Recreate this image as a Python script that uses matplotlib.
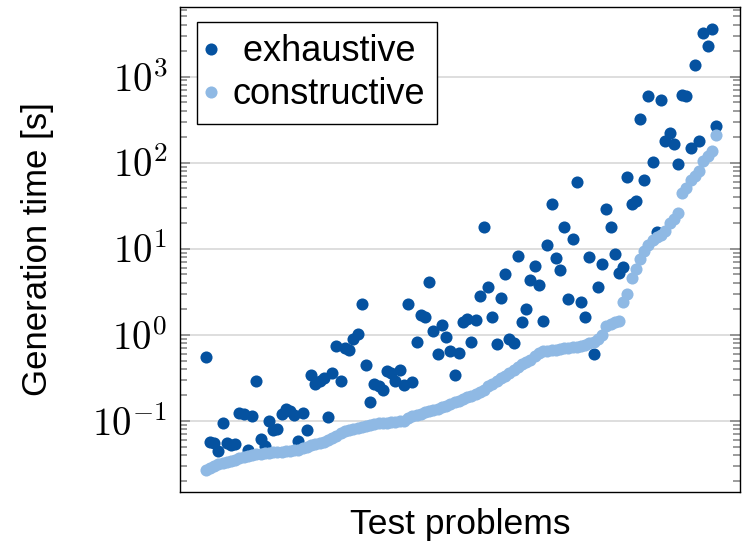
import matplotlib
matplotlib.use("Agg")
import matplotlib.pyplot as plt
from matplotlib.ticker import FuncFormatter
import numpy as np

# -------- Data (sorted by constructive time) --------
exhaustive = [
    0.55, 0.056, 0.055, 0.044, 0.095, 0.055, 0.052, 0.053, 0.123, 0.118,
    0.046, 0.113, 0.29, 0.061, 0.051, 0.10, 0.077, 0.08, 0.118, 0.135,
    0.13, 0.117, 0.058, 0.124, 0.077, 0.34, 0.27, 0.29, 0.31, 0.11,
    0.36, 0.73, 0.29, 0.70, 0.67, 0.89, 1.02, 2.29, 0.44, 0.165,
    0.27, 0.25, 0.23, 0.38, 0.36, 0.29, 0.385, 0.26, 2.29, 0.28,
    0.81, 1.7, 1.6, 4.14, 1.09, 0.60, 1.31, 0.94, 0.64, 0.34,
    0.61, 1.39, 1.52, 0.81, 1.47, 2.8, 18, 3.6, 1.6, 0.77,
    2.7, 5.1, 0.9, 0.79, 8.2, 1.4, 2.0, 4.3, 6.2, 3.8,
    1.43, 11, 33, 7.7, 5.7, 18, 2.6, 13, 59, 2.4,
    1.6, 7.9, 0.60, 3.6, 6.6, 29, 17.7, 8.7, 5.2, 6.1,
    68, 33, 36, 323, 63, 596, 102, 15.8, 540, 179,
    222, 166, 97, 614, 596, 148, 1380, 178, 3220, 2290,
    3540, 264,
]

constructive = [
    0.027, 0.028, 0.030, 0.031, 0.032, 0.033, 0.034, 0.035, 0.037, 0.038,
    0.039, 0.040, 0.041, 0.041, 0.042, 0.042, 0.043, 0.043, 0.043, 0.044,
    0.044, 0.045, 0.046, 0.048, 0.050, 0.052, 0.054, 0.055, 0.057, 0.060,
    0.063, 0.067, 0.071, 0.076, 0.078, 0.080, 0.082, 0.084, 0.087, 0.089,
    0.091, 0.093, 0.094, 0.095, 0.096, 0.097, 0.098, 0.100, 0.108, 0.114,
    0.117, 0.121, 0.125, 0.128, 0.132, 0.138, 0.144, 0.149, 0.155, 0.163,
    0.171, 0.179, 0.186, 0.194, 0.205, 0.216, 0.23, 0.25, 0.27, 0.29,
    0.31, 0.33, 0.36, 0.39, 0.42, 0.45, 0.48, 0.51, 0.56, 0.61,
    0.64, 0.65, 0.66, 0.67, 0.68, 0.69, 0.70, 0.71, 0.72, 0.74,
    0.76, 0.79, 0.82, 0.88, 1.0, 1.25, 1.33, 1.40, 1.43, 2.4,
    3.0, 4.5, 5.8, 7.5, 9.5, 11, 12.5, 13.5, 14.5, 16,
    20, 22, 26, 44, 50, 63, 70, 80, 105, 120,
    135, 212,
]

problems = np.arange(len(constructive))

# -------- Style --------
plt.rcParams["font.family"] = ["Liberation Sans", "DejaVu Sans"]
plt.rcParams["mathtext.fontset"] = "cm"

dark = "#0552a0"
light = "#8fb9e4"

fig = plt.figure(figsize=(7.49, 5.44), dpi=100)
ax = fig.add_axes([180 / 749, 1 - 491.7 / 544, 560 / 749, 484.4 / 544])

ax.plot(problems, exhaustive, "o", color=dark, markersize=8.7,
        markeredgewidth=0, label=" exhaustive", zorder=3)
ax.plot(problems, constructive, "o", color=light, markersize=8.7,
        markeredgewidth=0, label="constructive", zorder=4)

ax.set_yscale("log")
ax.set_ylim(10 ** -1.826, 10 ** 3.805)
ax.set_xlim(-6.1, 126.7)

ax.set_xticks([])
ax.yaxis.set_major_formatter(FuncFormatter(lambda v, p: r"$10^{%d}$" % round(np.log10(v))))
ax.yaxis.grid(True, which="major", color="#d4d4d4", linewidth=1.1)
ax.set_axisbelow(True)
ax.tick_params(axis="y", which="major", direction="in", length=7, width=1.1,
               color="#808080", left=True, right=True, labelsize=28, pad=9)
ax.tick_params(axis="y", which="minor", direction="in", length=4.8, width=1.1,
               color="#808080", left=True, right=True)
for s in ax.spines.values():
    s.set_linewidth(1.0)
    s.set_color("black")

ax.set_xlabel("Test problems", fontsize=25.5, labelpad=12)
ax.set_ylabel("Generation time [s]", fontsize=25)
ax.yaxis.set_label_coords(-0.225, 0.5)

leg = ax.legend(loc="upper left", bbox_to_anchor=(0.031, 0.969),
                borderaxespad=0, fontsize=26, handlelength=0.1,
                handletextpad=0.55, borderpad=0.33, labelspacing=0.22,
                fancybox=False, framealpha=1, edgecolor="black")
leg.get_frame().set_linewidth(1.0)

fig.savefig("out.png", dpi=100)
